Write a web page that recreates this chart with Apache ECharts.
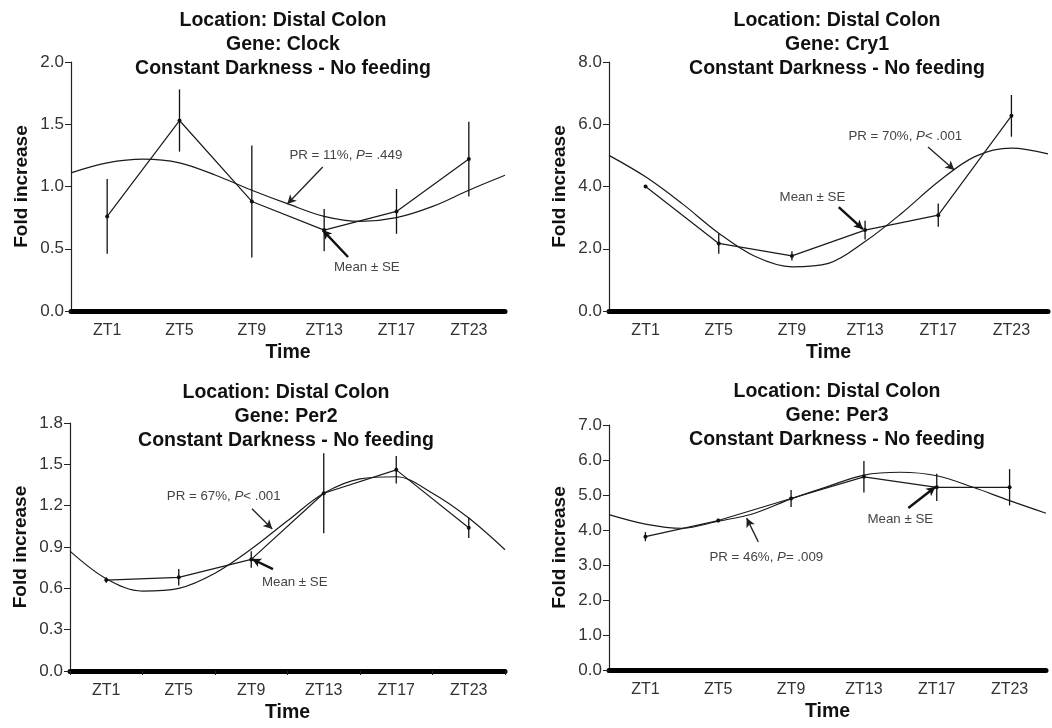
<!DOCTYPE html>
<html>
<head>
<meta charset="utf-8">
<script src="https://cdn.jsdelivr.net/npm/echarts@6/dist/echarts.min.js"></script>
<style>
  html, body { margin: 0; padding: 0; background: #fff; }
  #chart { width: 1052px; height: 728px; }
</style>
</head>
<body>
<div id="chart"></div>
<script>
// ---------- data ----------
const categories = ['ZT1', 'ZT5', 'ZT9', 'ZT13', 'ZT17', 'ZT23'];
// positions along the fitted-curve axis (band units, 0..6)
const fitX = [0, 0.5, 1, 1.5, 2, 2.5, 3, 3.5, 4, 4.5, 5, 5.5, 6];

const clockMean = [0.76, 1.53, 0.88, 0.65, 0.80, 1.22];
const clockSE   = [0.30, 0.25, 0.45, 0.17, 0.18, 0.30];
const clockFit  = [1.11, 1.19, 1.22, 1.19, 1.09, 0.97, 0.86, 0.76, 0.72, 0.75, 0.84, 0.97, 1.09];

const cry1Mean = [4.00, 2.17, 1.77, 2.60, 3.08, 6.27];
const cry1SE   = [0.05, 0.33, 0.15, 0.30, 0.37, 0.67];
const cry1Fit  = [5.00, 4.31, 3.45, 2.50, 1.75, 1.42, 1.53, 2.23, 3.14, 4.15, 4.96, 5.23, 5.05];

const per2Mean = [0.66, 0.68, 0.81, 1.29, 1.46, 1.04];
const per2SE   = [0.02, 0.06, 0.06, 0.29, 0.10, 0.075];
const per2Fit  = [0.87, 0.67, 0.58, 0.60, 0.71, 0.885, 1.09, 1.29, 1.395, 1.41, 1.29, 1.11, 0.88];

const per3Mean = [3.81, 4.27, 4.90, 5.52, 5.22, 5.22];
const per3SE   = [0.13, 0.05, 0.24, 0.45, 0.39, 0.52];
const per3Fit  = [4.44, 4.17, 4.05, 4.25, 4.48, 4.89, 5.24, 5.57, 5.65, 5.55, 5.22, 4.84, 4.48];

// y-axis tick settings
const clockTicks = { max: 2.0, interval: 0.5 };
const cry1Ticks  = { max: 8.0, interval: 2.0 };
const per2Ticks  = { max: 1.8, interval: 0.3 };
const per3Ticks  = { max: 7.0, interval: 1.0 };

// annotation texts
const clockPR = ['PR = 11%, ', 'P', '= .449'];
const cry1PR  = ['PR = 70%, ', 'P', '< .001'];
const per2PR  = ['PR = 67%, ', 'P', '< .001'];
const per3PR  = ['PR = 46%, ', 'P', '= .009'];

// annotation anchors in data units: [x (band units), y]
const clockNotes = { pr: [3.80, 1.253], prArrow: [[3.48, 1.157], [2.99, 0.859]], se: [4.09, 0.353], seArrow: [[3.83, 0.434], [3.48, 0.65]] };
const cry1Notes  = { pr: [4.05, 5.62], prArrow: [[4.36, 5.27], [4.72, 4.53]], se: [2.78, 3.66], seArrow: [[3.14, 3.34], [3.47, 2.63]] };
const per2Notes  = { pr: [2.12, 1.271], prArrow: [[2.51, 1.177], [2.79, 1.031]], se: [3.10, 0.646], seArrow: [[2.80, 0.74], [2.51, 0.813]] };
const per3Notes  = { pr: [2.16, 3.23], prArrow: [[2.05, 3.66], [1.89, 4.34]], se: [4.0, 4.31], seArrow: [[4.11, 4.63], [4.48, 5.23]] };

// ---------- layout ----------
const FONT = '"Liberation Sans", Arial, Helvetica, sans-serif';
const panels = [
  { gene: 'Clock', mean: clockMean, se: clockSE, fit: clockFit, ticks: clockTicks, pr: clockPR, notes: clockNotes,
    grid: { left: 71, top: 62, width: 434, height: 249 }, titleX: 278, titleY: 4, xTicks: false },
  { gene: 'Cry1', mean: cry1Mean, se: cry1SE, fit: cry1Fit, ticks: cry1Ticks, pr: cry1PR, notes: cry1Notes,
    grid: { left: 609, top: 62, width: 439, height: 249 }, titleX: 832, titleY: 4, xTicks: false },
  { gene: 'Per2', mean: per2Mean, se: per2SE, fit: per2Fit, ticks: per2Ticks, pr: per2PR, notes: per2Notes,
    grid: { left: 70, top: 423, width: 435, height: 248 }, titleX: 281, titleY: 376, xTicks: true },
  { gene: 'Per3', mean: per3Mean, se: per3SE, fit: per3Fit, ticks: per3Ticks, pr: per3PR, notes: per3Notes,
    grid: { left: 609, top: 425, width: 437, height: 245 }, titleX: 832, titleY: 375, xTicks: false }
];

const option = {
  animation: false,
  backgroundColor: '#fff',
  title: [], grid: [], xAxis: [], yAxis: [], series: []
};

panels.forEach((p, k) => {
  option.title.push({
    text: 'Location: Distal Colon\nGene: ' + p.gene + '\nConstant Darkness - No feeding',
    left: p.titleX, top: p.titleY, textAlign: 'center',
    textStyle: { fontFamily: FONT, fontSize: 19.5, fontWeight: 'bold', color: '#111', lineHeight: 24 }
  });
  option.grid.push(Object.assign({ containLabel: false }, p.grid));
  // visible category axis
  option.xAxis.push({
    type: 'category', gridIndex: k, data: categories, boundaryGap: true,
    name: 'Time', nameLocation: 'middle', nameGap: 32,
    nameTextStyle: { fontFamily: FONT, fontSize: 19.5, fontWeight: 'bold', color: '#111' },
    axisLine: { lineStyle: { color: '#000', width: 5 } },
    axisTick: { show: p.xTicks, length: 4, inside: false, lineStyle: { color: '#222', width: 1 } },
    axisLabel: { fontFamily: FONT, fontSize: 16, color: '#333', margin: 12 },
    splitLine: { show: false }
  });
  // hidden continuous axis for fitted curve and annotations
  option.xAxis.push({
    type: 'value', gridIndex: k, min: 0, max: 6, show: false,
    splitLine: { show: false }
  });
  option.yAxis.push({
    type: 'value', gridIndex: k, min: 0, max: p.ticks.max, interval: p.ticks.interval,
    name: 'Fold increase', nameLocation: 'middle', nameRotate: 90, nameGap: 40,
    nameTextStyle: { fontFamily: FONT, fontSize: 19, fontWeight: 'bold', color: '#111' },
    axisLine: { show: true, lineStyle: { color: '#222', width: 1.2 } },
    axisTick: { show: true, length: 6, lineStyle: { color: '#222', width: 1 } },
    axisLabel: { fontFamily: FONT, fontSize: 17, color: '#333', margin: 7,
      formatter: v => v.toFixed(1) },
    splitLine: { show: false }
  });
  const cx = 2 * k, vx = 2 * k + 1;
  // mean line
  option.series.push({
    type: 'line', xAxisIndex: cx, yAxisIndex: k, data: p.mean,
    symbol: 'circle', symbolSize: 4, z: 4,
    lineStyle: { color: '#1a1a1a', width: 1.2 }, itemStyle: { color: '#111' }
  });
  // error bars
  option.series.push({
    type: 'custom', xAxisIndex: cx, yAxisIndex: k, z: 4,
    data: p.mean.map((m, i) => [i, m - p.se[i], m + p.se[i]]),
    renderItem: (params, api) => {
      const lo = api.coord([api.value(0), api.value(1)]);
      const hi = api.coord([api.value(0), api.value(2)]);
      return { type: 'line', shape: { x1: lo[0], y1: lo[1], x2: hi[0], y2: hi[1] },
        style: { stroke: '#111', lineWidth: 1.3 } };
    }
  });
  // fitted curve + annotations
  const n = p.notes;
  const rich = {
    n: { fontFamily: FONT, fontSize: 13.3, color: '#444' },
    i: { fontFamily: FONT, fontSize: 13.3, color: '#444', fontStyle: 'italic' }
  };
  option.series.push({
    type: 'line', xAxisIndex: vx, yAxisIndex: k,
    data: fitX.map((x, i) => [x, p.fit[i]]),
    smooth: 0.35, symbol: 'none', z: 3,
    lineStyle: { color: '#1a1a1a', width: 1.2 },
    markLine: {
      silent: true, animation: false, symbolSize: [7, 9],
      label: { show: false },
      data: [
        [{ coord: n.prArrow[0], symbol: 'none', lineStyle: { color: '#222', width: 1.3, type: 'solid' } },
         { coord: n.prArrow[1], symbol: 'arrow' }],
        [{ coord: n.seArrow[0], symbol: 'none', lineStyle: { color: '#111', width: 2.4, type: 'solid' } },
         { coord: n.seArrow[1], symbol: 'arrow' }]
      ]
    },
    markPoint: {
      silent: true, symbol: 'rect', symbolSize: 0,
      data: [
        { coord: n.pr, label: { show: true, position: 'inside',
            formatter: '{n|' + p.pr[0] + '}{i|' + p.pr[1] + '}{n|' + p.pr[2] + '}', rich: rich } },
        { coord: n.se, label: { show: true, position: 'inside',
            formatter: '{n|Mean \u00b1 SE}', rich: rich } }
      ]
    }
  });
});

const chart = echarts.init(document.getElementById('chart'), null, { renderer: 'canvas' });
chart.setOption(option);
</script>
</body>
</html>
